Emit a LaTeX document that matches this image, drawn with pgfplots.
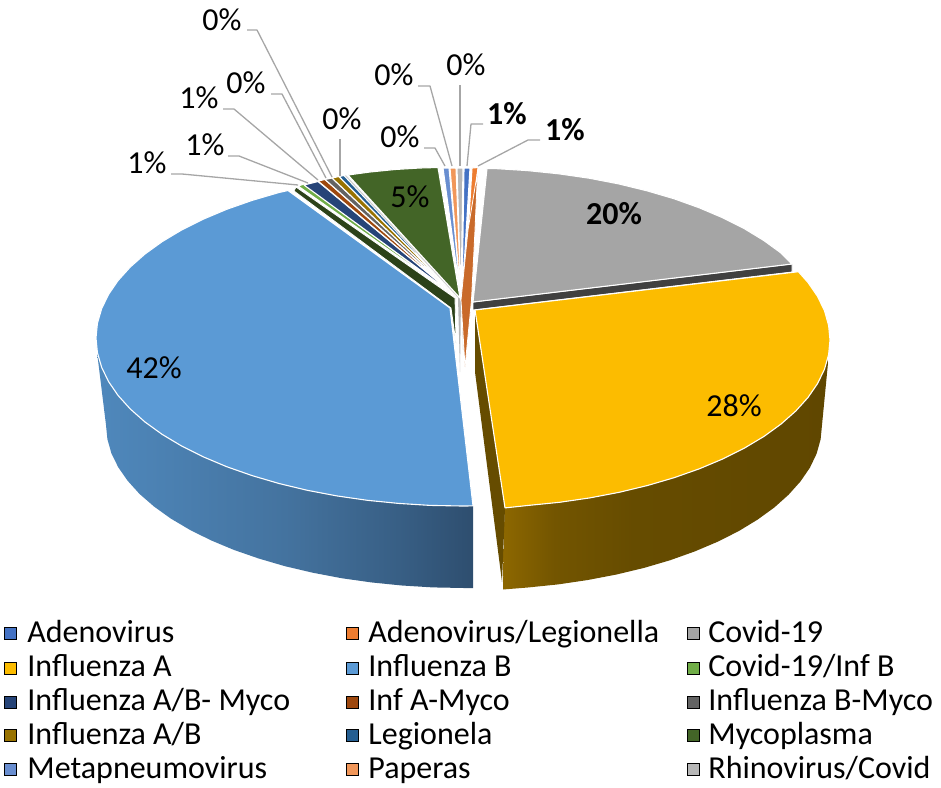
\documentclass[border=0pt]{standalone}
\usepackage{fontspec}
\setmainfont{Carlito}
\usepackage{pgfplots}
\pgfplotsset{compat=1.18}
\definecolor{cA}{HTML}{4472C4}\definecolor{cB}{HTML}{ED7D31}\definecolor{cC}{HTML}{A5A5A5}
\definecolor{cD}{HTML}{FCBC00}\definecolor{cE}{HTML}{5B9AD5}\definecolor{cF}{HTML}{70AD47}
\definecolor{cG}{HTML}{264478}\definecolor{cH}{HTML}{9E480E}\definecolor{cI}{HTML}{636363}
\definecolor{cJ}{HTML}{997300}\definecolor{cK}{HTML}{255E91}\definecolor{cL}{HTML}{436527}
\definecolor{cM}{HTML}{698ED0}\definecolor{cN}{HTML}{F1975A}\definecolor{cO}{HTML}{B7B7B7}
\definecolor{ldr}{HTML}{A6A6A6}
\definecolor{bw1}{HTML}{4F88BC}\definecolor{bw2}{HTML}{44739F}\definecolor{bw3}{HTML}{385F85}\definecolor{bw4}{HTML}{2E4E6F}
\definecolor{yw1}{HTML}{8D6700}\definecolor{yw2}{HTML}{735500}\definecolor{yw3}{HTML}{664C00}\definecolor{yw4}{HTML}{604700}
\pgfdeclarehorizontalshading{bluewall}{100bp}{color(0bp)=(bw1); color(25bp)=(bw1); color(50bp)=(bw2); color(65bp)=(bw3); color(75bp)=(bw4); color(100bp)=(bw4)}
\pgfdeclarehorizontalshading{yellowwall}{100bp}{color(0bp)=(yw1); color(25bp)=(yw1); color(33bp)=(yw2); color(45bp)=(yw3); color(75bp)=(yw4); color(100bp)=(yw4)}
\newcommand{\lab}[3]{\node[anchor=center,font=\fontsize{16}{18}\selectfont] at (axis cs:#1,#2) {#3};}
\newcommand{\leg}[3]{\node[anchor=base west,inner sep=0pt,font=\fontsize{16}{18}\selectfont] at (axis cs:#1,#2) {#3};}
\pgfplotsset{slice/.style={draw=white,line width=0.55pt,line join=round},
 leader/.style={draw=ldr,line width=0.65pt,line join=round},
 lm/.style={only marks,mark=square*,mark size=3pt,mark options={draw=none,fill=#1}}}
\begin{document}
\begin{tikzpicture}
\begin{axis}[width=470.5pt,height=393.5pt,scale only axis,hide axis,clip=false,
 xmin=0,xmax=941,ymin=0,ymax=787,y dir=reverse]
\draw[draw=none] (axis cs:0,0) rectangle (axis cs:941,787);
% walls
\addplot[draw=none,shading=bluewall] coordinates {(97,352)(200,420)(471,500)(473,506)(473,588)(464,588)(432.8,587.4)(401.9,585.5)(371.3,582.4)(341.6,578.2)(312.7,572.7)(285,566.2)(258.7,558.5)(233.9,549.9)(210.9,540.3)(189.8,529.8)(170.7,518.5)(154,506.5)(139.5,493.9)(127.6,480.7)(118.2,467.2)(111.4,453.3)(107.4,439.2)(106,425)} -- cycle;
\addplot[draw=none,shading=yellowwall] coordinates {(505,480)(700,440)(826,350)(828,363)(822,425)(820.6,439.4)(816.6,453.7)(809.9,467.7)(800.5,481.4)(788.6,494.7)(774.3,507.5)(757.6,519.6)(738.7,531.1)(717.7,541.7)(694.8,551.4)(670.2,560.2)(644,567.9)(616.5,574.5)(587.8,580)(558.1,584.4)(527.8,587.5)(503,589.5)} -- cycle;
\addplot[fill=yw3,draw=none] coordinates {(475,310)(505,508)(502,582)(475,372)} -- cycle;
% thin inner slivers near the centre
\addplot[fill=cO,draw=none] coordinates {(458,298)(461,298)(460,372)} -- cycle;
\addplot[fill=cO,draw=none] coordinates {(462,298)(464,298)(463,350)} -- cycle;
% dark green side
\addplot[fill=cL!65!black,draw=white,line width=0.4pt] coordinates {(296,187)(455,298)(456,343)(451,308)(294,191)} -- cycle;
% small left wedges
\addplot[fill=cF,slice] coordinates {(298,186)(304,184)(456,297)} -- cycle;
\addplot[fill=cG,slice] coordinates {(304,185)(318,181.5)(457,297)} -- cycle;
\addplot[fill=cH,slice] coordinates {(318,181)(325,179.5)(457,297)} -- cycle;
\addplot[fill=cI,slice] coordinates {(325,179.5)(332,178)(458,297)} -- cycle;
\addplot[fill=cJ,slice] coordinates {(332,178)(339,176.5)(458,297)} -- cycle;
\addplot[fill=cK,slice] coordinates {(339,176.5)(344,175.5)(458,297)} -- cycle;
\addplot[draw=cO!70!white,line width=0.5pt] coordinates {(345.5,175.5)(459,298)};
% mycoplasma
\addplot[fill=cL,slice] coordinates {(348,175)(370,172)(395,169.5)(420,168)(438,167.5)(460,298)} -- cycle;
% small top wedges
\addplot[fill=cM,slice] coordinates {(443,168)(449,168)(461,300)} -- cycle;
\addplot[fill=cN,slice] coordinates {(450,168)(456,168)(461,300)} -- cycle;
\addplot[fill=cO,slice] coordinates {(457,168)(463,168)(461,300)} -- cycle;
\addplot[fill=cA,slice] coordinates {(464,168)(470,168)(462,300)} -- cycle;
\addplot[fill=cB,slice] coordinates {(472,168)(478,167.5)(464,300)} -- cycle;
\addplot[fill=cB!85!black,draw=white,line width=0.4pt] coordinates {(477.5,172)(475,230)(471.5,300)(465,367)(461,300)(468,230)} -- cycle;
% covid side and top
\addplot[fill=black!75,draw=white,line width=0.4pt] coordinates {(473,302)(792,264)(792,272)(473,310)} -- cycle;
\addplot[fill=cC,slice] coordinates {(473,302)(487,168.5)(495.9,168.6)(527.5,170.6)(558.7,173.8)(589.2,178.2)(618.7,183.9)(647,190.8)(673.9,198.7)(699.3,207.8)(722.8,217.8)(744.4,228.7)(763.8,240.5)(781,253)(792,264)} -- cycle;
% influenza A top
\addplot[fill=cD,slice] coordinates {(475,310)(798.4,271.7)(808,282.5)(817.6,296.5)(824.5,310.8)(828.6,325.4)(830,340)(828.6,354.6)(824.5,369.2)(817.6,383.5)(808,397.5)(795.8,411)(781.1,424)(764,436.4)(744.6,448)(723.1,458.8)(699.6,468.7)(674.4,477.6)(647.5,485.5)(619.2,492.3)(589.8,497.9)(559.5,502.3)(528.4,505.4)(505,507.9)} -- cycle;
% influenza B top
\addplot[fill=cE,slice] coordinates {(450,308)(288,190.5)(279,192.5)(252.1,200.4)(226.7,209.3)(203.2,219.2)(181.6,230)(162.2,241.6)(145,254)(130.3,267)(118.1,280.5)(108.5,294.5)(101.6,308.8)(97.4,323.4)(96,338)(97.4,352.6)(101.6,367.2)(108.5,381.5)(118.1,395.5)(130.3,409)(145,422)(162.2,434.4)(181.6,446)(203.2,456.8)(226.7,466.7)(252.1,475.6)(279,483.5)(307.3,490.3)(336.8,495.9)(367.3,500.3)(398.5,503.4)(430.1,505.4)(462,506)(473,505.9)} -- cycle;
% leader lines
\addplot[leader] coordinates {(478,166)(528,140)(540,140)};
\addplot[leader] coordinates {(467,166)(471,124)(483,124)};
\addplot[leader] coordinates {(460,166)(460,85)};
\addplot[leader] coordinates {(452,166)(430,86)(418,86)};
\addplot[leader] coordinates {(445,166)(435,148)(424,148)};
\addplot[leader] coordinates {(340,176)(340,139)};
\addplot[leader] coordinates {(332,177)(257,30)(247,30)};
\addplot[leader] coordinates {(326,178)(282,94)(271,94)};
\addplot[leader] coordinates {(318,180)(234,109)(223,109)};
\addplot[leader] coordinates {(308,183)(239,156)(228,156)};
\addplot[leader] coordinates {(298,185)(182,174)(171,174)};
% labels
\lab{565}{130}{\bfseries 1\%}\lab{507}{114}{\bfseries 1\%}\lab{466}{65}{0\%}\lab{394}{75}{0\%}
\lab{400}{137}{0\%}\lab{342}{119}{0\%}\lab{222}{20}{0\%}\lab{246}{83}{0\%}\lab{199}{98}{1\%}
\lab{205}{145}{1\%}\lab{147}{163}{1\%}\lab{410}{197}{5\%}\lab{614}{214}{\bfseries 20\%}
\lab{734}{406}{28\%}\lab{154}{368}{42\%}
% legend
\addplot[lm=cA] coordinates {(10,633)};\addplot[lm=cB] coordinates {(352,633)};\addplot[lm=cC] coordinates {(693,633)};
\addplot[lm=cD] coordinates {(10,668)};\addplot[lm=cE] coordinates {(352,668)};\addplot[lm=cF] coordinates {(693,668)};
\addplot[lm=cG] coordinates {(10,702)};\addplot[lm=cH] coordinates {(352,702)};\addplot[lm=cI] coordinates {(693,702)};
\addplot[lm=cJ] coordinates {(10,735)};\addplot[lm=cK] coordinates {(352,735)};\addplot[lm=cL] coordinates {(693,735)};
\addplot[lm=cM] coordinates {(10,769)};\addplot[lm=cN] coordinates {(352,769)};\addplot[lm=cO] coordinates {(693,769)};
\leg{27}{642}{Adenovirus}\leg{368}{642}{Adenovirus/Legionella}\leg{708}{642}{Covid-19}
\leg{27}{676}{Influenza A}\leg{368}{676}{Influenza B}\leg{708}{676}{Covid-19/Inf B}
\leg{27}{710}{Influenza A/B- Myco}\leg{368}{710}{Inf A-Myco}\leg{708}{710}{Influenza B-Myco}
\leg{27}{744}{Influenza A/B}\leg{368}{744}{Legionela}\leg{708}{744}{Mycoplasma}
\leg{27}{778}{Metapneumovirus}\leg{368}{778}{Paperas}\leg{708}{778}{Rhinovirus/Covid}
\end{axis}
\end{tikzpicture}
\end{document}
